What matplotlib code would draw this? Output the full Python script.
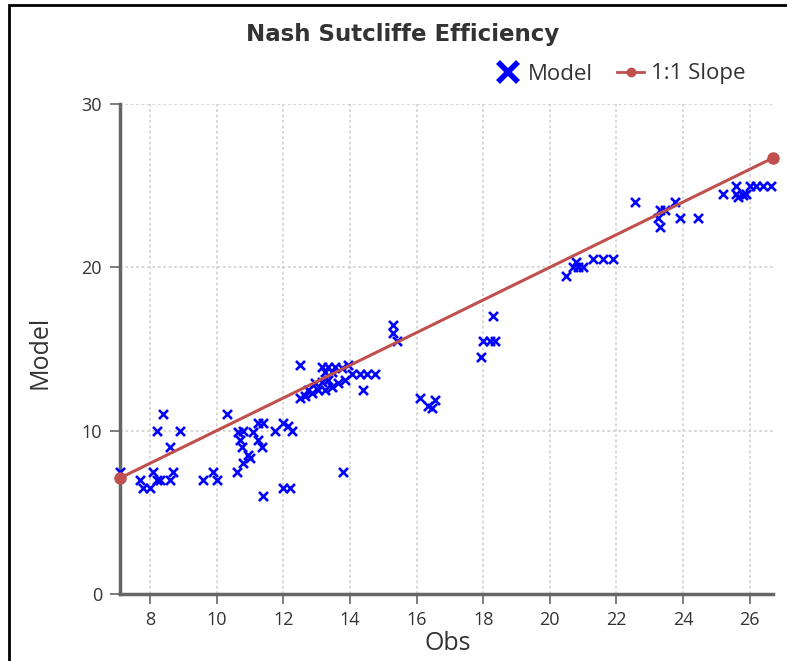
import matplotlib
matplotlib.use("Agg")
import matplotlib.pyplot as plt
from matplotlib.patches import Rectangle
from matplotlib.lines import Line2D

obs = [7.1, 7.7, 7.8, 8.0, 8.1, 8.2, 8.3, 8.6, 8.7, 8.4, 8.2, 8.9, 8.6,
       9.6, 9.9, 10.0, 10.3, 10.6, 10.65, 10.8, 10.7, 10.75, 10.8, 10.95,
       11.0, 11.1, 11.25, 11.4, 11.25, 11.35, 11.4, 11.75, 12.0, 12.15,
       12.25, 12.0, 12.2, 12.5, 12.5, 12.65, 12.75, 12.85, 12.95, 13.05,
       13.15, 13.25, 13.35, 13.45, 13.65, 13.85, 13.15, 13.35, 13.55,
       13.75, 13.25, 13.45, 13.95, 14.05, 14.3, 14.5, 14.75, 14.4, 13.8,
       15.3, 15.3, 15.4, 16.1, 16.35, 16.45, 16.55, 18.3, 18.0, 18.2,
       18.35, 17.95, 20.5, 20.7, 20.8, 20.85, 21.0, 21.3, 21.6, 21.9,
       22.55, 23.3, 23.45, 23.75, 23.25, 23.3, 23.9, 24.45, 25.2, 25.6,
       25.6, 25.65, 25.8, 25.9, 26.0, 26.2, 26.4, 26.65]
model = [7.5, 7.0, 6.5, 6.5, 7.5, 7.0, 7.0, 7.0, 7.5, 11.0, 10.0, 10.0, 9.0,
         7.0, 7.5, 7.0, 11.0, 7.5, 9.9, 10.0, 9.4, 9.0, 8.0, 8.5,
         8.3, 9.9, 10.5, 10.5, 9.4, 9.0, 6.0, 10.0, 10.5, 10.3,
         10.0, 6.5, 6.5, 14.0, 12.0, 12.1, 12.5, 12.3, 12.9, 12.5,
         13.0, 12.5, 13.1, 12.7, 12.9, 13.1, 13.9, 13.9, 13.9,
         13.85, 13.6, 13.6, 14.0, 13.5, 13.5, 13.5, 13.5, 12.5, 7.5,
         16.5, 16.0, 15.5, 12.0, 11.5, 11.4, 11.9, 17.0, 15.5, 15.5,
         15.5, 14.5, 19.5, 20.0, 20.3, 20.0, 20.0, 20.5, 20.5, 20.5,
         24.0, 23.5, 23.5, 24.0, 23.0, 22.5, 23.0, 23.0, 24.5, 25.0,
         24.5, 24.3, 24.4, 24.5, 25.0, 25.0, 25.0, 25.0]
slope_x = [7.1, 26.7]
slope_y = [7.1, 26.7]
x_ticks = [8, 10, 12, 14, 16, 18, 20, 22, 24, 26]
y_ticks = [0, 10, 20, 30]

plt.rcParams['font.family'] = ['Open Sans', 'DejaVu Sans']

fig = plt.figure(figsize=(7.87, 6.61), dpi=100)
ax = fig.add_axes([120/787, 1-594/661, (773-120)/787, (594-104)/661])

ax.scatter(obs, model, marker='x', color='#0000ff', s=42, linewidths=1.9,
           zorder=3, clip_on=False)
ax.plot(slope_x, slope_y, color='#c0504d', lw=2.2, marker='o', ms=8,
        zorder=4, clip_on=False)

ax.set_xlim(7.1, 26.7)
ax.set_ylim(0, 30)
ax.set_xticks(x_ticks)
ax.set_yticks(y_ticks)
ax.grid(True, color='#d4d4d4', linestyle=(0, (1.5, 1.5)), linewidth=1.3)
ax.set_axisbelow(True)
for s in ['top', 'right']:
    ax.spines[s].set_visible(False)
for s in ['left', 'bottom']:
    ax.spines[s].set_color('#666666')
    ax.spines[s].set_linewidth(2.5)
ax.tick_params(axis='both', colors='#666666', length=7, width=1.2,
               labelcolor='#333333', labelsize=13)
ax.tick_params(axis='y', pad=6)
ax.tick_params(axis='x', pad=5)

fig.text(40/787, 1-352/661, 'Model', rotation=90, ha='center', va='center',
         fontsize=18, color='#333333')
fig.text(448/787, 1-644/661, 'Obs', ha='center', va='center',
         fontsize=18, color='#333333')
fig.text(403/787, 1-35/661, 'Nash Sutcliffe Efficiency', ha='center',
         va='center', fontsize=16.5, fontweight='bold', color='#333333',
         family=['Liberation Sans Narrow', 'DejaVu Sans'])

handles = [Line2D([], [], marker='x', color='#0000ff', linestyle='none',
                  markersize=15, markeredgewidth=4),
           Line2D([], [], marker='o', color='#c0504d', lw=2, ms=6)]
leg = fig.legend(handles, ['Model', '1:1 Slope'], loc='center left',
                 bbox_to_anchor=(488/787, 1-74/661), frameon=False, ncol=2,
                 fontsize=16, handlelength=1.2, handletextpad=0.3,
                 columnspacing=1.1, labelcolor='#333333',
                 borderaxespad=0, borderpad=0.3)

fig.patches.append(Rectangle((9/787, -0.1), 1.0, 1-5/661 + 0.1,
                             transform=fig.transFigure, fill=False,
                             edgecolor='black', lw=2))

fig.savefig('out.png', dpi=100)
